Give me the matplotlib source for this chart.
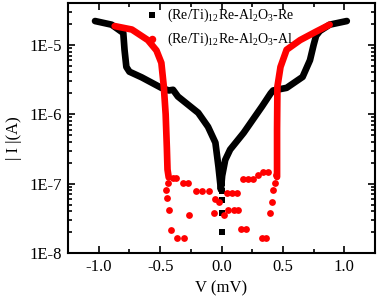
import matplotlib
matplotlib.use("Agg")
import matplotlib.pyplot as plt
from matplotlib.ticker import FixedLocator, FuncFormatter, LogLocator, NullFormatter, MultipleLocator
import numpy as np

plt.rcParams['font.family'] = ['Liberation Serif', 'DejaVu Serif']
plt.rcParams['mathtext.fontset'] = 'custom'
plt.rcParams['mathtext.rm'] = 'Liberation Serif'
plt.rcParams['mathtext.default'] = 'regular'
plt.rcParams['axes.unicode_minus'] = False

# Re-Al2O3-Re (black squares) : dense sweep curve
re_v = [-1.03, -0.895, -0.80, -0.79, -0.775, -0.75, -0.65, -0.49, -0.43, -0.395, -0.355,
        -0.19, -0.11, -0.05, -0.025, -0.005, 0.005, 0.03, 0.07, 0.18, 0.33, 0.40, 0.42,
        0.53, 0.66, 0.72, 0.75, 0.77, 0.80, 0.88, 1.02]
re_i = [2.2e-5, 1.95e-5, 1.48e-5, 8.5e-6, 4.8e-6, 4.1e-6, 3.4e-6, 2.4e-6, 2.2e-6, 2.25e-6, 1.8e-6,
        1.05e-6, 6.6e-7, 3.9e-7, 1.75e-7, 8.2e-8, 1.3e-7, 2.2e-7, 3.1e-7, 5.4e-7, 1.3e-6, 2.0e-6, 2.2e-6,
        2.4e-6, 3.45e-6, 6.0e-6, 1.0e-5, 1.35e-5, 1.58e-5, 1.95e-5, 2.2e-5]
# isolated black points near 0 V
re_pts_v = [0.0, 0.0, 0.0, 0.0, 0.0]
re_pts_i = [1.02e-7, 7.8e-8, 5.9e-8, 3.8e-8, 2.0e-8]

# Re-Al2O3-Al (red circles) : dense branches
al_left_v = [-0.87, -0.73, -0.60, -0.53, -0.49, -0.47, -0.455, -0.445, -0.44, -0.43]
al_left_i = [1.86e-5, 1.66e-5, 1.17e-5, 8.3e-6, 5.5e-6, 2.5e-6, 1.0e-6, 3.2e-7, 1.6e-7, 1.23e-7]
al_right_v = [0.452, 0.452, 0.455, 0.48, 0.53, 0.64, 0.77, 0.88]
al_right_i = [1.25e-7, 6.0e-7, 2.5e-6, 4.8e-6, 8.5e-6, 1.17e-5, 1.55e-5, 1.95e-5]
# scattered red points at low current
al_pts_v = [-0.395, -0.371, -0.435, -0.315, -0.274, -0.452, -0.444, -0.427, -0.411, -0.363, -0.306,
            -0.266, -0.21, -0.16, -0.105, -0.05, -0.024, -0.06, 0.016, 0.048, 0.089, 0.129,
            0.05, 0.10, 0.13, 0.16, 0.20, 0.177, 0.218, 0.258, 0.298, 0.339, 0.379,
            0.331, 0.363, 0.395, 0.411, 0.419, 0.435, 0.444]
al_pts_i = [1.22e-7, 1.22e-7, 1.03e-7, 1.03e-7, 1.03e-7, 8.2e-8, 6.3e-8, 4.2e-8, 2.18e-8, 1.67e-8, 1.67e-8,
            3.58e-8, 7.8e-8, 7.8e-8, 7.8e-8, 6.1e-8, 5.5e-8, 3.8e-8, 3.58e-8, 7.4e-8, 7.4e-8, 7.4e-8,
            4.2e-8, 4.2e-8, 4.2e-8, 2.24e-8, 2.24e-8, 1.15e-7, 1.15e-7, 1.15e-7, 1.35e-7, 1.45e-7, 1.48e-7,
            1.66e-8, 1.66e-8, 3.8e-8, 5.5e-8, 8.1e-8, 1.03e-7, 1.35e-7]

labels = ["(Re/Ti)$_{12}$Re-Al$_{2}$O$_{3}$-Re", "(Re/Ti)$_{12}$Re-Al$_{2}$O$_{3}$-Al"]

fig = plt.figure(figsize=(3.8, 3.01), dpi=100)
ax = fig.add_axes([0.179, 0.159, 0.808, 0.831])

ax.plot(re_v, re_i, color='black', lw=4.8, solid_joinstyle='round', solid_capstyle='round', zorder=2)
sq = ax.scatter(re_pts_v, re_pts_i, marker='s', s=20, color='black', lw=0, zorder=3, label=labels[0])
ax.plot(al_left_v, al_left_i, color='red', lw=4.8, solid_joinstyle='round', solid_capstyle='round', zorder=4)
ax.plot(al_right_v, al_right_i, color='red', lw=4.8, solid_joinstyle='round', solid_capstyle='round', zorder=4)
ci = ax.scatter(al_pts_v, al_pts_i, marker='o', s=24, color='red', lw=0, zorder=4, label=labels[1])

ax.set_yscale('log')
ax.set_ylim(1e-8, 4e-5)
ax.set_xlim(-1.25, 1.25)
ax.yaxis.set_major_locator(FixedLocator([1e-8, 1e-7, 1e-6, 1e-5]))
ax.yaxis.set_major_formatter(FuncFormatter(lambda v, p: "1E%d" % int(round(np.log10(v)))))
ax.yaxis.set_minor_locator(LogLocator(base=10, subs=np.arange(2, 10), numticks=20))
ax.yaxis.set_minor_formatter(NullFormatter())
ax.xaxis.set_major_locator(FixedLocator([-1.0, -0.5, 0.0, 0.5, 1.0]))
ax.xaxis.set_major_formatter(FuncFormatter(lambda v, p: "%.1f" % v))
ax.xaxis.set_minor_locator(MultipleLocator(0.25))

for s in ax.spines.values():
    s.set_linewidth(1.5)
ax.tick_params(which='both', direction='in', top=True, right=True, width=1.2)
ax.tick_params(which='major', length=5, labelsize=12, pad=4)
ax.tick_params(which='minor', length=3)

ax.set_xlabel("V (mV)", fontsize=12, labelpad=4)
ax.set_ylabel("| I |(A)", fontsize=12)
ax.yaxis.set_label_coords(-0.15, 0.46)

leg = ax.legend(handles=[sq, ci], loc='upper left', bbox_to_anchor=(0.25, 0.985), frameon=False,
                fontsize=10, handlelength=1.0, handletextpad=0.6, borderpad=0, borderaxespad=0,
                labelspacing=0.45, markerscale=1.1)

fig.savefig("out.png", dpi=100)
